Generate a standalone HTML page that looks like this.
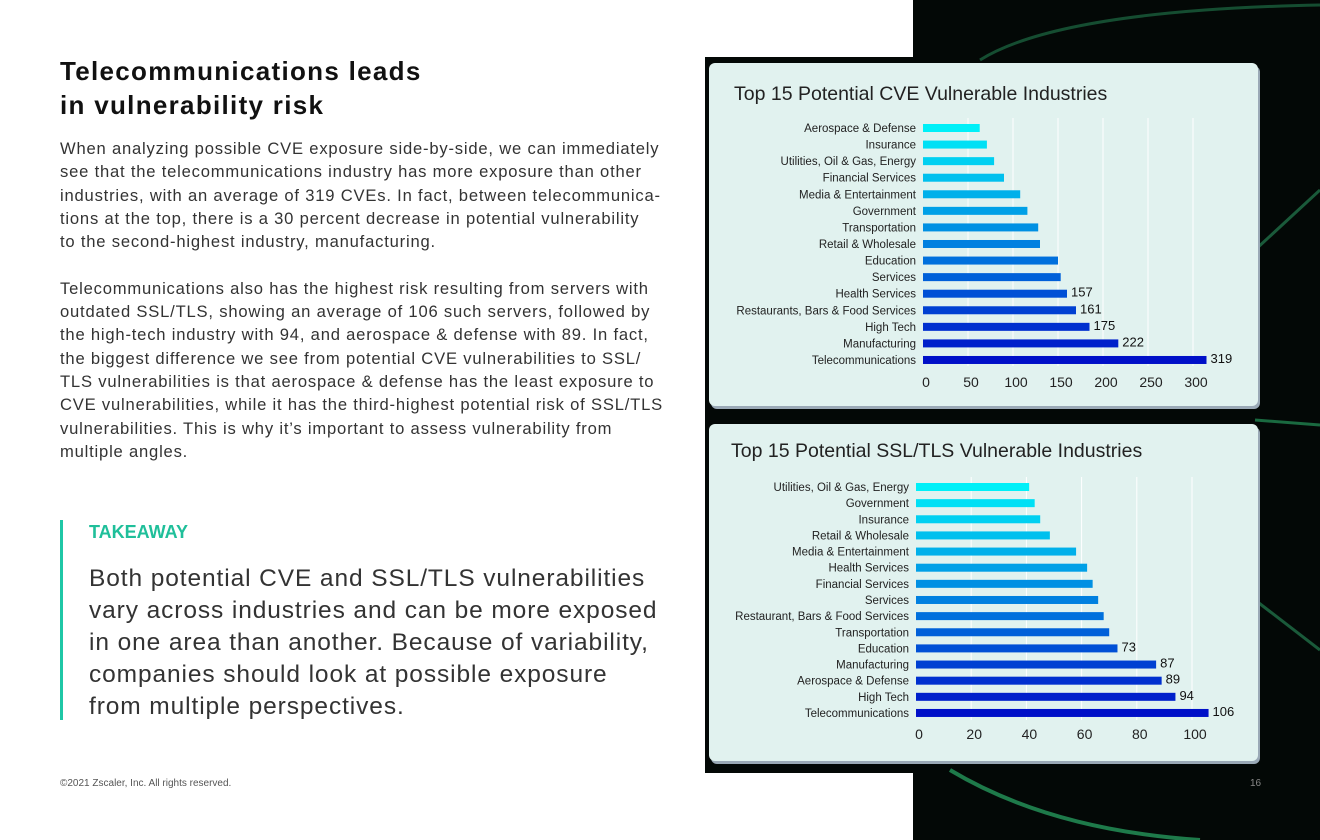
<!DOCTYPE html>
<html><head><meta charset="utf-8"><style>
body{margin:0;width:1320px;height:840px;overflow:hidden;background:#fff;font-family:"Liberation Sans",sans-serif;position:relative}
.abs{position:absolute}
h1{position:absolute;left:60px;top:54px;margin:0;font-size:26px;line-height:34px;font-weight:bold;color:#111;letter-spacing:1.3px}
.body{left:60px;top:137px;width:640px;font-size:16.6px;line-height:23.3px;color:#333;white-space:nowrap;letter-spacing:0.8px}
.body p{margin:0 0 23.3px 0}
.take{left:60px;top:520px;border-left:3px solid #1fc7a6;padding-left:26px;height:200px;width:600px}
.tk{font-weight:bold;color:#1fbf9a;font-size:18px;margin-top:2px}
.tq{font-size:24.5px;line-height:32px;color:#333;margin-top:20px;white-space:nowrap;letter-spacing:0.9px}
.card{position:absolute;left:709px;width:549px;background:#e1f2ef;border-radius:6px;box-shadow:2px 3px 0 #9aa9b6}
.ttl{position:absolute;font-size:19.5px;color:#222}
svg text{font-family:"Liberation Sans",sans-serif}
</style></head><body>
<svg class="abs" style="left:0;top:0" width="1320" height="840">
<rect x="913" y="0" width="407" height="840" fill="#030806"/>
<rect x="705" y="57" width="210" height="716" fill="#030806"/>
<path d="M980 60 Q1060 10 1320 5" stroke="#1e6b45" stroke-width="3" fill="none" opacity=".7"/>
<path d="M1255 250 L1320 190" stroke="#1a5a3a" stroke-width="3" fill="none"/>
<path d="M1255 420 L1320 425" stroke="#1a6a40" stroke-width="3" fill="none"/>
<path d="M1255 600 L1320 650" stroke="#1a5a3a" stroke-width="3" fill="none"/>
<path d="M950 770 Q1050 830 1200 840" stroke="#1e7a4a" stroke-width="4" fill="none"/>
</svg>
<h1>Telecommunications leads<br>in vulnerability risk</h1>
<div class="abs body">
<p>When analyzing possible CVE exposure side-by-side, we can immediately<br>see that the telecommunications industry has more exposure than other<br>industries, with an average of 319 CVEs. In fact, between telecommunica-<br>tions at the top, there is a 30 percent decrease in potential vulnerability<br>to the second-highest industry, manufacturing.</p>
<p>Telecommunications also has the highest risk resulting from servers with<br>outdated SSL/TLS, showing an average of 106 such servers, followed by<br>the high-tech industry with 94, and aerospace &amp; defense with 89. In fact,<br>the biggest difference we see from potential CVE vulnerabilities to SSL/<br>TLS vulnerabilities is that aerospace &amp; defense has the least exposure to<br>CVE vulnerabilities, while it has the third-highest potential risk of SSL/TLS<br>vulnerabilities. This is why it’s important to assess vulnerability from<br>multiple angles.</p>
</div>
<div class="abs take">
<div class="tk">TAKEAWAY</div>
<div class="tq">Both potential CVE and SSL/TLS vulnerabilities<br>vary across industries and can be more exposed<br>in one area than another. Because of variability,<br>companies should look at possible exposure<br>from multiple perspectives.</div>
</div>
<div class="abs" style="left:60px;top:778px;font-size:10px;color:#555">©2021 Zscaler, Inc. All rights reserved.</div>
<div class="abs" style="left:1250px;top:778px;font-size:10px;color:#888">16</div>

<div class="card" style="top:63px;height:343px">
<div class="ttl" style="left:25px;top:20px">Top 15 Potential CVE Vulnerable Industries</div>
</div>
<div class="card" style="top:424px;height:337px">
<div class="ttl" style="left:22px;top:16px">Top 15 Potential SSL/TLS Vulnerable Industries</div>
</div>
<svg id="ch" class="abs" style="left:0;top:0" width="1320" height="840"></svg>
<script>
const cveCats=["Aerospace & Defense","Insurance","Utilities, Oil & Gas, Energy","Financial Services","Media & Entertainment","Government","Transportation","Retail & Wholesale","Education","Services","Health Services","Restaurants, Bars & Food Services","High Tech","Manufacturing","Telecommunications"];
const cveVals=[63,71,79,90,108,116,128,130,150,153,160,170,185,217,315];
const cveLabels=["","","","","","","","","","","157","161","175","222","319"];
const cveTicks=[0,50,100,150,200,250,300];
const sslCats=["Utilities, Oil & Gas, Energy","Government","Insurance","Retail & Wholesale","Media & Entertainment","Health Services","Financial Services","Services","Restaurant, Bars & Food Services","Transportation","Education","Manufacturing","Aerospace & Defense","High Tech","Telecommunications"];
const sslVals=[41,43,45,48.5,58,62,64,66,68,70,73,87,89,94,106];
const sslLabels=["","","","","","","","","","","73","87","89","94","106"];
const sslTicks=[0,20,40,60,80,100];
const NS="http://www.w3.org/2000/svg";
const svg=document.getElementById('ch');
function mk(t,a,txt){const e=document.createElementNS(NS,t);for(const k in a)e.setAttribute(k,a[k]);if(txt!==undefined)e.textContent=txt;svg.appendChild(e);return e;}
function col(i,n){const t=i/(n-1);const r=0,g=Math.round(240*(1-t)+16*t),b=Math.round(248*(1-t)+200*t);return `rgb(${r},${g},${b})`;}
function draw(cfg){
  const {cats,vals,labels,ticks,x0,k,y0,step,gridTop,gridBot,tickY,pfx}=cfg;
  const X=v=>x0+v*k, Y=i=>y0+i*step;
  ticks.forEach(t=>{ if(t>0){const g=mk('line',{x1:X(t),x2:X(t),y1:gridTop,y2:gridBot,stroke:'#fff','stroke-width':1});
    
    }
    const tl=mk('text',{x:X(t)+3,y:tickY,'font-size':14,fill:'#222','text-anchor':'middle'},String(t));
    
    
  });
  cats.forEach((c,i)=>{
    const l=mk('text',{x:x0-7,y:Y(i)+4,'font-size':11.5,fill:'#222','text-anchor':'end'},c);
    
    
    const b=mk('rect',{x:x0,y:Y(i)-4,width:X(vals[i])-x0,height:8,fill:col(i,cats.length)});
    
    
    if(labels[i]){const v=mk('text',{x:X(vals[i])+4,y:Y(i)+3,'font-size':13,fill:'#111'},labels[i]);
      
      }
  });
}
draw({cats:cveCats,vals:cveVals,labels:cveLabels,ticks:cveTicks,x0:923,k:0.9,y0:128,step:16.57,gridTop:118,gridBot:366,tickY:387,pfx:'cve'});
draw({cats:sslCats,vals:sslVals,labels:sslLabels,ticks:sslTicks,x0:916,k:2.76,y0:487,step:16.14,gridTop:477,gridBot:720,tickY:739,pfx:'ssl'});
</script>
</body></html>
